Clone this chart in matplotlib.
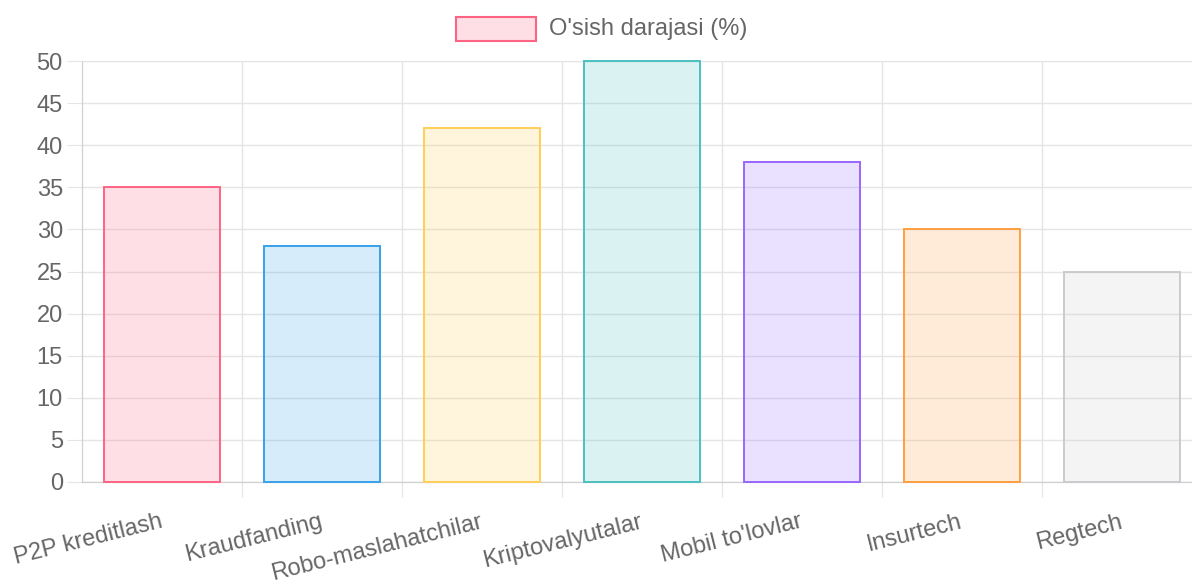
import numpy as np
import matplotlib.pyplot as plt
from matplotlib.patches import Rectangle

categories = ['P2P kreditlash', 'Kraudfanding', 'Robo-maslahatchilar', 'Kriptovalyutalar',
              "Mobil to'lovlar", 'Insurtech', 'Regtech']
values = [35, 28, 42, 50, 38, 30, 25]
edge_colors = [(255, 99, 132), (54, 162, 235), (255, 206, 86), (75, 192, 192),
               (153, 102, 255), (255, 159, 64), (201, 203, 207)]
series_label = "O'sish darajasi (%)"

plt.rcParams['font.family'] = ['Liberation Sans', 'DejaVu Sans']
text_color = '#666666'
grid_color = '#e5e5e5'
fs = 17

W, H = 1192, 583
fig = plt.figure(figsize=(W / 100, H / 100), dpi=100)
# plot area: x 82..1202 px (last category is cut by the image edge), y 61..482 px
ax = fig.add_axes([82 / W, (H - 482) / H, 1120 / W, 421 / H])

edges = [tuple(c / 255 for c in rgb) for rgb in edge_colors]
fills = [(r, g, b, 0.2) for r, g, b in edges]
x = np.arange(len(categories))
bars = ax.bar(x, values, width=0.72, color=fills, edgecolor=edges, linewidth=1.4, zorder=3)
for b in bars:
    b.set_clip_on(False)

ax.set_xlim(-0.5, len(categories) - 0.5)
ax.set_ylim(0, 50)
ax.set_yticks(np.arange(0, 51, 5))
ax.set_xticks(x)
ax.set_xticklabels(categories)
ax.set_xticks(x[:-1] + 0.5, minor=True)

ax.grid(axis='y', color=grid_color, linewidth=1, zorder=0)
ax.grid(axis='x', which='minor', color=grid_color, linewidth=1, zorder=0)
ax.tick_params(axis='y', length=10.8, width=0.8, color=grid_color, pad=3,
               labelsize=fs, labelcolor=text_color)
ax.tick_params(axis='x', which='major', length=0, pad=28.5, labelsize=fs,
               labelcolor=text_color)
ax.tick_params(axis='x', which='minor', length=10.8, width=0.8, color=grid_color)
for lbl in ax.get_xticklabels():
    lbl.set_rotation(14)
    lbl.set_ha('right')
    lbl.set_va('center')
    lbl.set_rotation_mode('anchor')

for side in ['left', 'bottom']:
    ax.spines[side].set_color('#d0d0d0')
    ax.spines[side].set_linewidth(0.9)
ax.spines['top'].set_color(grid_color)
ax.spines['top'].set_linewidth(0.8)
ax.spines['right'].set_visible(False)

# legend in Chart.js style
fig.patches.append(Rectangle((456 / W, 1 - 41 / H), 80 / W, 24 / H,
                             transform=fig.transFigure, facecolor=fills[0],
                             edgecolor=edges[0], linewidth=1.5))
fig.text(549 / W, 1 - 29 / H, series_label, fontsize=fs, color=text_color,
         ha='left', va='center')

fig.savefig('out.png', dpi=100)
